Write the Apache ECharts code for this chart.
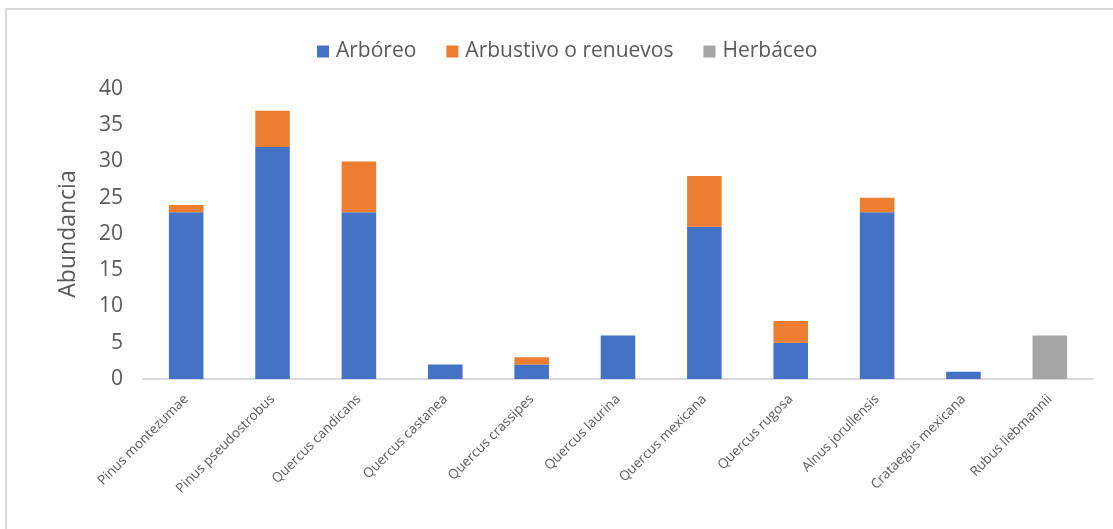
<!DOCTYPE html>
<html>
<head>
<meta charset="utf-8">
<script src="https://cdn.jsdelivr.net/npm/echarts@6/dist/echarts.min.js"></script>
<style>
  html, body { margin: 0; padding: 0; background: #ffffff; }
  #chart { width: 1113px; height: 529px; }
</style>
</head>
<body>
<div id="chart"></div>
<script>
// Species along the x axis
const species = [
  'Pinus montezumae', 'Pinus pseudostrobus', 'Quercus candicans', 'Quercus castanea',
  'Quercus crassipes', 'Quercus laurina', 'Quercus mexicana', 'Quercus rugosa',
  'Alnus jorullensis', 'Crataegus mexicana', 'Rubus liebmannii'
];
// Abundance per stratum ('-' = not present)
const arboreo    = [23, 32, 23, 2, 2, 6, 21, 5, 23, 1, '-'];
const arbustivo  = [1, 5, 7, '-', 1, '-', 7, 3, 2, '-', '-'];
const herbaceo   = ['-', '-', '-', '-', '-', '-', '-', '-', '-', '-', 6];
const seriesNames = ['Arbóreo', 'Arbustivo o renuevos', 'Herbáceo'];
const yTicks = { min: 0, max: 40, interval: 5 };

const font = '"Open Sans", "Noto Sans", sans-serif';
const chart = echarts.init(document.getElementById('chart'), null, { renderer: 'canvas' });

const makeBar = (name, data, color) => ({
  name, type: 'bar', stack: 'total', data,
  barCategoryGap: '60%',
  itemStyle: { color },
  emphasis: { disabled: true }
});

chart.setOption({
  animation: false,
  backgroundColor: '#ffffff',
  color: ['#4472C4', '#ED7D31', '#A5A5A5'],
  graphic: [{
    type: 'polyline',
    shape: { points: [[6, 540], [6, 9], [1120, 9]] },
    style: { stroke: '#d9d9d9', lineWidth: 2, fill: null },
    silent: true
  }],
  legend: {
    data: seriesNames,
    top: 36,
    left: 312,
    itemWidth: 12,
    itemHeight: 12,
    itemGap: 30,
    icon: 'rect',
    textStyle: { fontFamily: font, fontSize: 21, color: '#595959', padding: [0, 0, 0, 2] }
  },
  grid: { left: 143, right: 20, top: 89, bottom: 150, containLabel: false },
  xAxis: {
    type: 'category',
    data: species,
    axisLine: { lineStyle: { color: '#d9d9d9', width: 2 } },
    axisTick: { show: false },
    axisLabel: {
      rotate: 45, interval: 0, margin: 18,
      fontFamily: font, fontSize: 13.5, color: '#595959'
    }
  },
  yAxis: {
    type: 'value',
    min: yTicks.min, max: yTicks.max, interval: yTicks.interval,
    name: 'Abundancia',
    nameLocation: 'middle',
    nameGap: 63,
    nameTextStyle: { fontFamily: font, fontSize: 23, color: '#595959' },
    axisLine: { show: false },
    axisTick: { show: false },
    splitLine: { show: false },
    axisLabel: { margin: 20, fontFamily: font, fontSize: 21, color: '#595959' }
  },
  series: [
    makeBar(seriesNames[0], arboreo, '#4472C4'),
    makeBar(seriesNames[1], arbustivo, '#ED7D31'),
    makeBar(seriesNames[2], herbaceo, '#A5A5A5')
  ]
});
</script>
</body>
</html>
